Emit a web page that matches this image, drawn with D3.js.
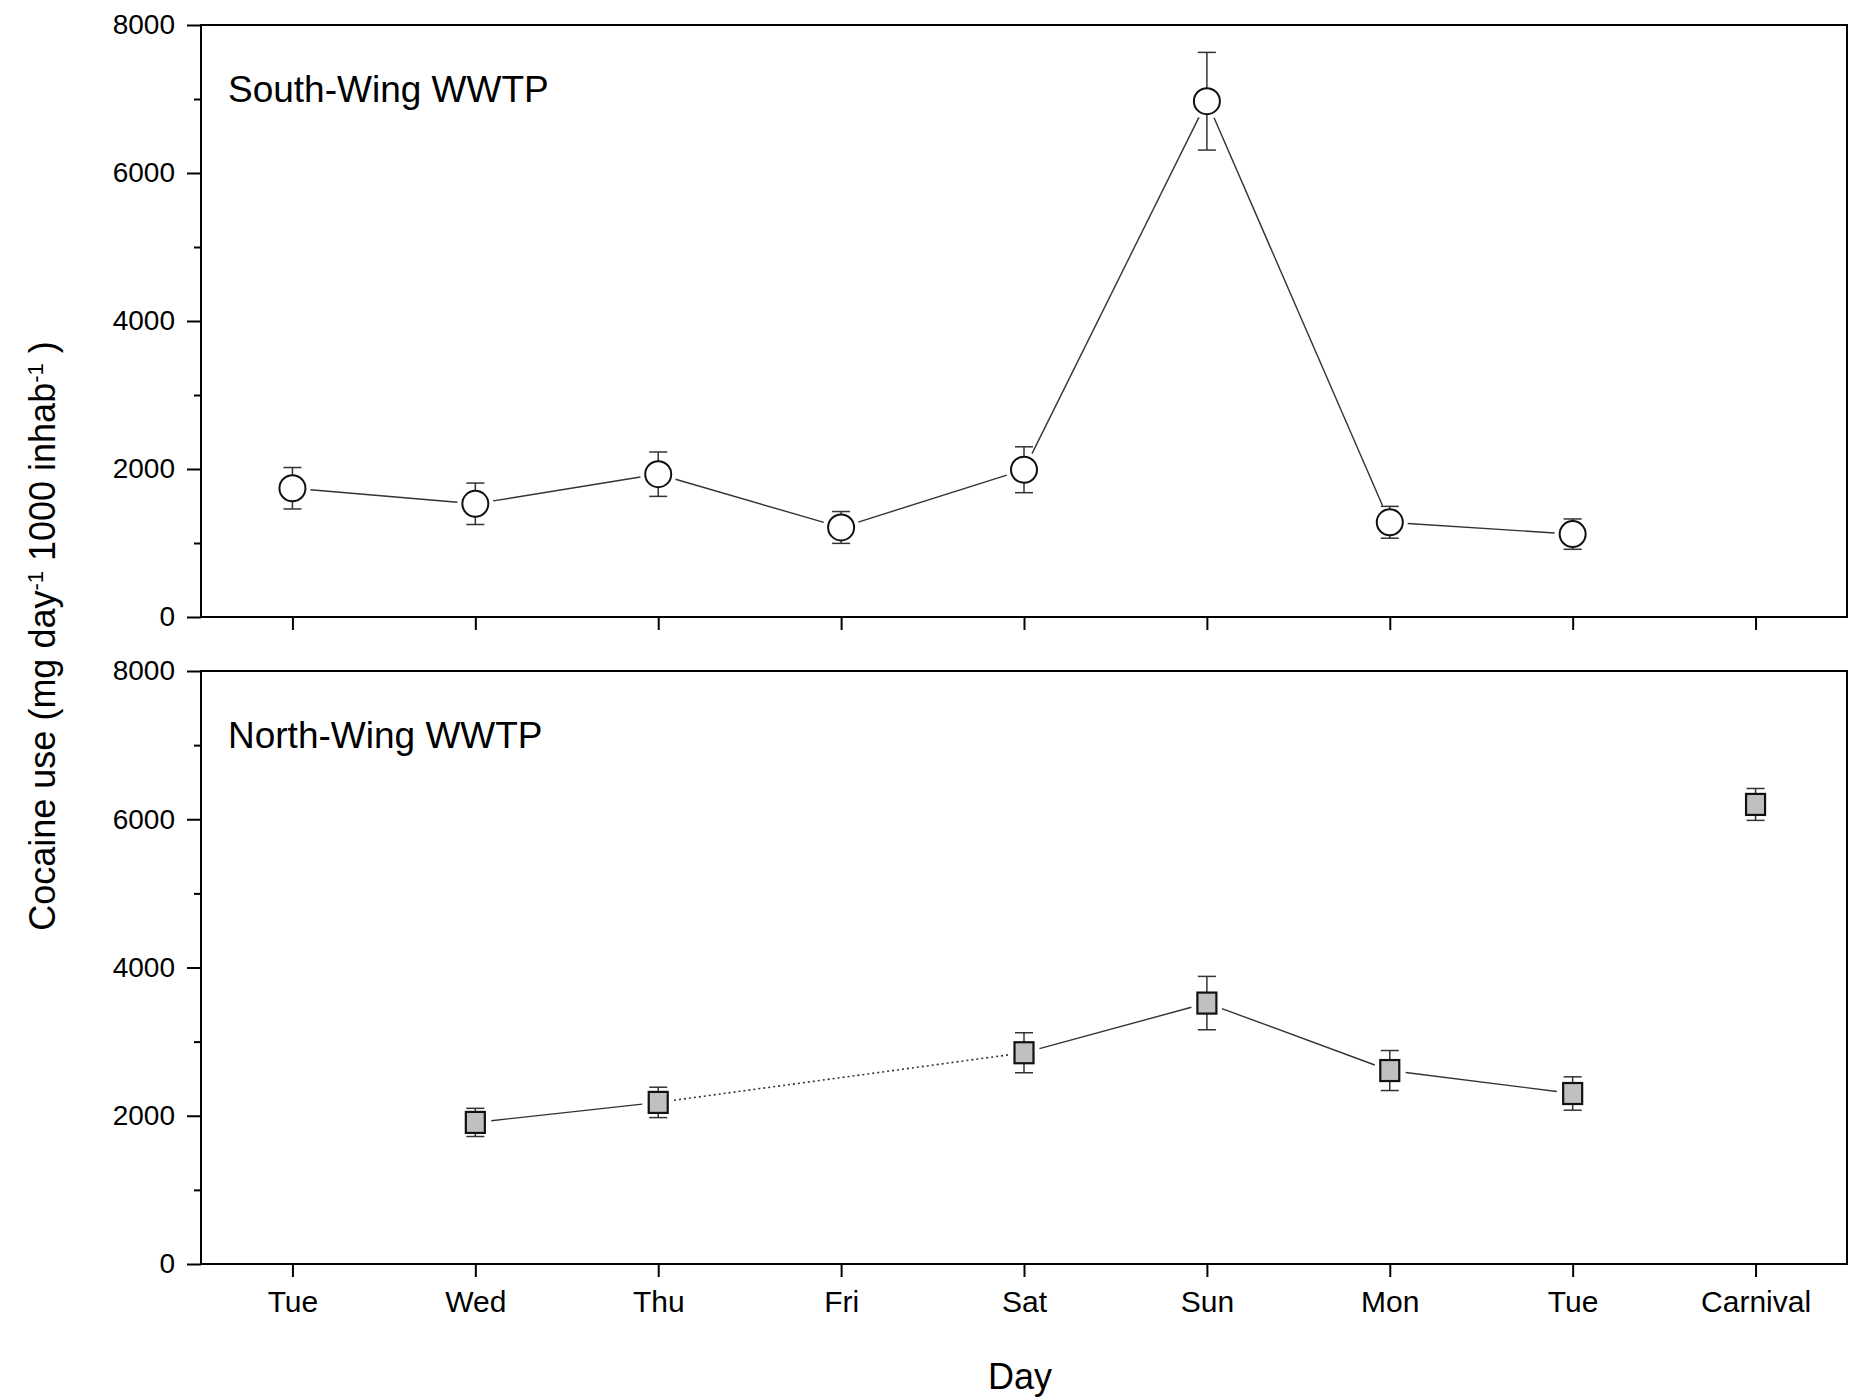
<!DOCTYPE html>
<head>
<meta charset="utf-8">
<style>
  body { margin: 0; background: white; }
  svg { font-family: 'Liberation Sans', Arial, sans-serif; background: white; }
  .axis text { font-size: 28px; fill: #000; }
  .xaxis text { font-size: 30px; }
  .axis path, .axis line { stroke: #000; stroke-width: 2; }
  .panelLabel { font-size: 37px; }
  .axisTitle { font-size: 36px; }
</style>
</head>
<body>
<script src="https://d3js.org/d3.v7.min.js"></script>
<script>
// DATA
const days = ["Tue", "Wed", "Thu", "Fri", "Sat", "Sun", "Mon", "Tue", "Carnival"];
const southVal = [1740, 1530, 1930, 1210, 1990, 6970, 1280, 1120, null];
const southErr = [280, 280, 300, 215, 310, 660, 215, 205, null];
const northVal = [null, 1910, 2180, null, 2850, 3520, 2610, 2300, 6200];
const northErr = [null, 190, 205, null, 270, 360, 270, 225, 215];
const northConnect = [null, 1, 1, null, 1, 1, 1, 1, 0]; // Carnival stands alone
const yTicks = [0, 2000, 4000, 6000, 8000];
const yMinor = [1000, 3000, 5000, 7000];

// DIMENSIONS
const width = 1850, height = 1398;
const left = 201, right = 1847;
const panels = [
  { top: 25, bottom: 617, label: "South-Wing WWTP", val: southVal, err: southErr, marker: "circle", labels: false },
  { top: 671, bottom: 1264, label: "North-Wing WWTP", val: northVal, err: northErr, marker: "square", labels: true }
];

const svg = d3.select('body').append('svg')
  .attr('width', width)
  .attr('height', height);

const x = d3.scalePoint()
  .domain(d3.range(days.length))
  .range([left, right])
  .padding(0.5);

panels.forEach(function(p, pi) {
  const y = d3.scaleLinear([0, 8000], [p.bottom, p.top]);
  const g = svg.append('g');

  // frame
  g.append('rect')
    .attr('x', left).attr('y', p.top)
    .attr('width', right - left).attr('height', p.bottom - p.top)
    .attr('fill', 'none').attr('stroke', '#000').attr('stroke-width', 2);

  // y axis
  g.append('g').attr('class', 'axis')
    .attr('transform', `translate(${left},0)`)
    .call(d3.axisLeft(y).tickValues(yTicks).tickSize(14).tickPadding(12).tickFormat(d3.format('d')))
    .select('.domain').remove();
  g.append('g').attr('class', 'axis')
    .attr('transform', `translate(${left},0)`)
    .call(d3.axisLeft(y).tickValues(yMinor).tickSize(7).tickFormat(''))
    .select('.domain').remove();

  // x axis
  g.append('g').attr('class', 'axis xaxis')
    .attr('transform', `translate(0,${p.bottom})`)
    .call(d3.axisBottom(x).tickSize(13).tickPadding(14).tickFormat(i => p.labels ? days[i] : ''))
    .select('.domain').remove();

  // panel label
  g.append('text')
    .attr('class', 'panelLabel')
    .attr('x', 228).attr('y', p.top + 77)
    .text(p.label);

  // points
  const pts = p.val.map((v, i) => ({ i: i, v: v, e: p.err[i] })).filter(d => d.v != null);

  // connecting segments (dotted when a day is missing), shortened at markers
  const gap = p.marker === 'circle' ? 18 : 16;
  for (let k = 0; k < pts.length - 1; k++) {
    const a = pts[k], b = pts[k + 1];
    if (pi === 1 && (northConnect[a.i] === 0 || northConnect[b.i] === 0)) continue;
    const x1 = x(a.i), y1 = y(a.v), x2 = x(b.i), y2 = y(b.v);
    const len = Math.hypot(x2 - x1, y2 - y1);
    const ux = (x2 - x1) / len, uy = (y2 - y1) / len;
    g.append('line')
      .attr('x1', x1 + ux * gap).attr('y1', y1 + uy * gap)
      .attr('x2', x2 - ux * gap).attr('y2', y2 - uy * gap)
      .attr('stroke', '#333')
      .attr('stroke-width', b.i - a.i > 1 ? 1.6 : 1.4)
      .attr('stroke-dasharray', b.i - a.i > 1 ? '2,3' : null);
  }

  // error bars
  const eb = g.append('g').attr('stroke', '#333').attr('stroke-width', 1.5);
  pts.forEach(function(d) {
    eb.append('line')
      .attr('x1', x(d.i)).attr('x2', x(d.i))
      .attr('y1', y(d.v - d.e)).attr('y2', y(d.v + d.e));
    [d.v - d.e, d.v + d.e].forEach(function(c) {
      eb.append('line')
        .attr('x1', x(d.i) - 9).attr('x2', x(d.i) + 9)
        .attr('y1', y(c)).attr('y2', y(c));
    });
  });

  // markers
  if (p.marker === 'circle') {
    g.selectAll('circle.pt').data(pts).join('circle')
      .attr('class', 'pt')
      .attr('cx', d => x(d.i)).attr('cy', d => y(d.v))
      .attr('r', 13)
      .attr('fill', 'white').attr('stroke', '#111').attr('stroke-width', 2);
  } else {
    g.selectAll('rect.pt').data(pts).join('rect')
      .attr('class', 'pt')
      .attr('x', d => x(d.i) - 9.5).attr('y', d => y(d.v) - 10.5)
      .attr('width', 19).attr('height', 21)
      .attr('fill', '#c0c0c0').attr('stroke', '#111').attr('stroke-width', 2.2);
  }
});

// AXIS TITLES
svg.append('text')
  .attr('class', 'axisTitle')
  .attr('x', 1020).attr('y', 1389)
  .attr('text-anchor', 'middle')
  .text('Day');

const yt = svg.append('text')
  .attr('class', 'axisTitle')
  .attr('text-anchor', 'middle')
  .attr('transform', 'translate(55,636) rotate(-90)');
yt.append('tspan').text('Cocaine use (mg day');
yt.append('tspan').attr('baseline-shift', 'super').attr('font-size', '22px').text('-1');
yt.append('tspan').text(' 1000 inhab');
yt.append('tspan').attr('baseline-shift', 'super').attr('font-size', '22px').text('-1');
yt.append('tspan').text(' )');
</script>
</body>
